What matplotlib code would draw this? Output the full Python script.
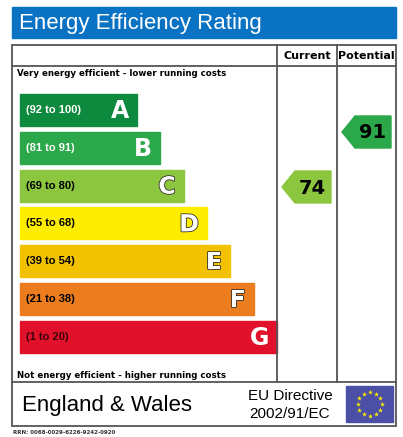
import numpy as np
import matplotlib.pyplot as plt
import matplotlib.patheffects as pe
from matplotlib.patches import Rectangle, Polygon

bands = ["A", "B", "C", "D", "E", "F", "G"]
ranges = ["(92 to 100)", "(81 to 91)", "(69 to 80)", "(55 to 68)", "(39 to 54)", "(21 to 38)", "(1 to 20)"]
colors = ["#0e8a3e", "#2ba84a", "#8cc63f", "#ffed00", "#f2c200", "#eb7d1e", "#e2112b"]
current = 74
potential = 91
current_band = "C"
potential_band = "B"

fig = plt.figure(figsize=(4.03, 4.37), dpi=100)
ax = fig.add_axes([0, 0, 1, 1])
ax.set_xlim(0, 403)
ax.set_ylim(437, 0)
ax.axis("off")

ax.add_patch(Rectangle((12, 7), 384, 31, color="#0a72c2"))
ax.text(19, 23, "Energy Efficiency Rating", color="white", fontsize=16, va="center", family="Liberation Sans")

lw = 1.3
ax.add_patch(Rectangle((12, 45), 384, 381, fill=False, ec="#555555", lw=lw))
ax.plot([12, 396], [66, 66], color="#555555", lw=lw)
ax.plot([12, 396], [382, 382], color="#555555", lw=lw)
for x in (277, 337):
    ax.plot([x, x], [45, 382], color="#555555", lw=lw)
ax.text(307, 56, "Current", fontsize=8, weight="bold", ha="center", va="center")
ax.text(366, 56, "Potential", fontsize=8, weight="bold", ha="center", va="center")
ax.text(17, 73, "Very energy efficient - lower running costs", fontsize=6.2, weight="bold", va="center")
ax.text(17, 375, "Not energy efficient - higher running costs", fontsize=6.2, weight="bold", va="center")

y0, pitch, h = 94, 37.8, 32
for i, (b, r, c) in enumerate(zip(bands, ranges, colors)):
    y = y0 + i * pitch
    right = 137 + i * 23.3
    ax.add_patch(Rectangle((20, y), right - 20, h, color=c))
    tc = "white" if i in (0, 1) else ("#3a0008" if i == 6 else "black")
    ax.text(26, y + h / 2, r, fontsize=8, weight="bold", va="center", color=tc, family="Liberation Sans")
    t = ax.text(right - 8, y + h / 2 + 1, b, fontsize=17, weight="bold", ha="right", va="center",
                color="white", family="DejaVu Sans")
    if i not in (0, 1, 6):
        t.set_path_effects([pe.withStroke(linewidth=1.2, foreground="#333333")])


def arrow(xl, xr, yc, val, col):
    hh = 16
    pts = [(xl, yc), (xl + 13, yc - hh), (xr, yc - hh), (xr, yc + hh), (xl + 13, yc + hh)]
    ax.add_patch(Polygon(pts, color=col))
    ax.text(xr - 5, yc + 1, str(val), fontsize=14, weight="bold", ha="right", va="center", color="black")


ci = bands.index(current_band)
pi = bands.index(potential_band)
arrow(282, 331, 187, current, colors[ci])
arrow(342, 391, 132, potential, colors[pi])

ax.text(22, 405, "England & Wales", fontsize=16, va="center", family="Liberation Sans")
ax.text(290, 396, "EU Directive", fontsize=11, ha="center", va="center", family="Liberation Sans")
ax.text(290, 414, "2002/91/EC", fontsize=11, ha="center", va="center", family="Liberation Sans")
ax.add_patch(Rectangle((346, 386), 47, 36, color="#4b4fa6"))
ang = np.linspace(0, 2 * np.pi, 13)[:-1]
ax.scatter(369.5 + 12 * np.sin(ang), 404 - 12 * np.cos(ang), marker="*", s=14, color="#ffed00", lw=0)
ax.text(13, 433, "RRN: 0068-0029-6226-9242-0920", fontsize=4, weight="bold", color="#333333", va="center")

fig.savefig("out.png", dpi=100)
